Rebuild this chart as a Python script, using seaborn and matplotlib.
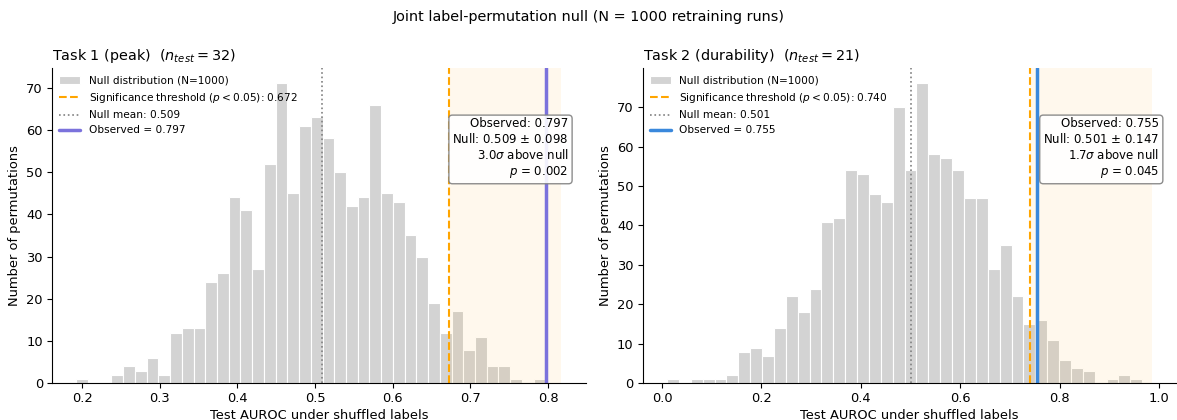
import numpy as np
import pandas as pd
import matplotlib
matplotlib.use("Agg")
import matplotlib.pyplot as plt
import seaborn as sns

# ---- data ----
task1_counts = [1, 0, 0, 2, 4, 3, 6, 2, 12, 13, 13, 24, 26, 44, 41, 27, 52, 71, 45, 61,
                63, 58, 50, 42, 44, 66, 45, 43, 35, 30, 19, 12, 17, 8, 11, 4, 4, 1, 0, 1]
task1_range = (0.1927, 0.7963)
task1_obs = 0.797
task1_thr = 0.672
task1_mean = 0.509
task1_sd = 0.098
task1_z = 3.0
task1_p = 0.002
task1_n = 32

task2_counts = [1, 0, 1, 1, 1, 2, 8, 9, 7, 14, 22, 18, 24, 41, 42, 54, 53, 48, 46, 70,
                54, 76, 58, 57, 54, 47, 47, 29, 35, 22, 15, 16, 11, 6, 4, 3, 0, 1, 2, 1]
task2_range = (0.0101, 0.9659)
task2_obs = 0.755
task2_thr = 0.740
task2_mean = 0.501
task2_sd = 0.147
task2_z = 1.7
task2_p = 0.045
task2_n = 21

panels = [
    dict(title="Task 1 (peak)", n=task1_n, counts=task1_counts, rng=task1_range,
         obs=task1_obs, thr=task1_thr, mean=task1_mean, sd=task1_sd, z=task1_z,
         p=task1_p, color="#7b72dc"),
    dict(title="Task 2 (durability)", n=task2_n, counts=task2_counts, rng=task2_range,
         obs=task2_obs, thr=task2_thr, mean=task2_mean, sd=task2_sd, z=task2_z,
         p=task2_p, color="#3a88dc"),
]

S = 0.94  # overall font scale of the reference
sns.set_style("ticks", rc={"axes.edgecolor": "black", "xtick.color": "black",
                           "ytick.color": "black", "text.color": "black",
                           "axes.labelcolor": "black"})
plt.rcParams["font.family"] = ["DejaVu Sans"]
plt.rcParams["xtick.major.size"] = 3.5 * S
plt.rcParams["ytick.major.size"] = 3.5 * S
plt.rcParams["xtick.major.pad"] = 3.3
plt.rcParams["ytick.major.pad"] = 3.5 * S
plt.rcParams["axes.labelpad"] = 2.6

fig, axes = plt.subplots(1, 2, figsize=(11.77, 4.2), dpi=100)
fig.subplots_adjust(left=0.0442, right=0.9995, top=0.837, bottom=0.0874, wspace=0.107)

for ax, d in zip(axes, panels):
    counts = np.array(d["counts"])
    edges = np.linspace(d["rng"][0], d["rng"][1], len(counts) + 1)
    centers = (edges[:-1] + edges[1:]) / 2
    df = pd.DataFrame({"x": centers, "w": counts})
    sns.histplot(data=df, x="x", weights="w", bins=edges.tolist(), color="lightgray",
                 edgecolor="white", linewidth=0.8, alpha=1.0, ax=ax,
                 label="Null distribution (N=1000)")
    shade_end = max(edges[-1], d["obs"]) + 0.02
    ax.axvspan(d["thr"], shade_end, color="orange", alpha=0.07, lw=0, zorder=2)
    ax.axvline(d["thr"], color="orange", ls="--", lw=1.5,
               label=f"Significance threshold ($p < 0.05$): {d['thr']:.3f}")
    ax.axvline(d["mean"], color="gray", ls=":", lw=1.2,
               label=f"Null mean: {d['mean']:.3f}")
    ax.axvline(d["obs"], color=d["color"], ls="-", lw=2.5,
               label=f"Observed = {d['obs']:.3f}")
    ax.set_title(f"{d['title']}  ($n_{{test}} = {d['n']}$)", loc="left", fontsize=11 * S)
    ax.set_xlabel("Test AUROC under shuffled labels", fontsize=10 * S)
    ax.set_ylabel("Number of permutations", fontsize=10 * S, labelpad=4.0 * S)
    ax.tick_params(labelsize=10 * S)
    ax.set_yticks(np.arange(0, 71, 10))
    handles, labels = ax.get_legend_handles_labels()
    order = [len(handles) - 1] + list(range(len(handles) - 1))
    ax.legend([handles[i] for i in order], [labels[i] for i in order],
              loc="upper left", fontsize=8 * S, frameon=False, handlelength=2.0,
              borderaxespad=0.3)
    txt = (f"Observed: {d['obs']:.3f}\nNull: {d['mean']:.3f} $\\pm$ {d['sd']:.3f}\n"
           f"{d['z']:.1f}$\\sigma$ above null\n$p$ = {d['p']:.3f}")
    ax.text(0.968, 0.847, txt, transform=ax.transAxes, ha="right", va="top", fontsize=9 * S,
            bbox=dict(boxstyle="round,pad=0.3", fc="white", ec="gray", alpha=0.9))
    sns.despine(ax=ax)

fig.suptitle("Joint label-permutation null (N = 1000 retraining runs)", fontsize=11 * S, y=0.975)
fig.savefig("out.png", dpi=100)
